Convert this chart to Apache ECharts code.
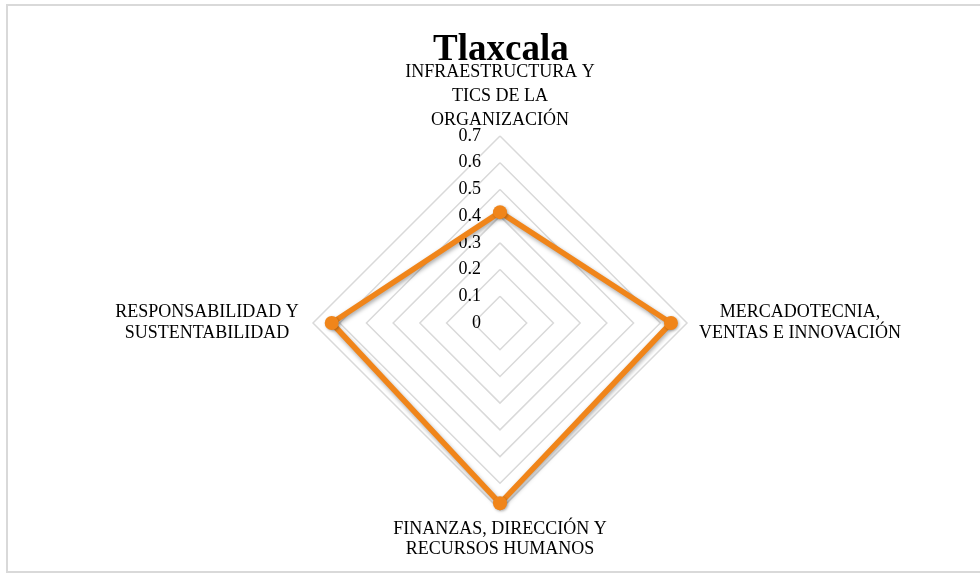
<!DOCTYPE html>
<html>
<head>
<meta charset="utf-8">
<script src="https://cdn.jsdelivr.net/npm/echarts@6/dist/echarts.min.js"></script>
<style>
  html, body { margin: 0; padding: 0; background: #fff; }
  #chart { width: 980px; height: 573px; }
</style>
</head>
<body>
<div id="chart"></div>
<script>
// indicators in ECharts order (top, left, bottom, right)
const indicatorNames = [
  'INFRAESTRUCTURA Y\nTICS DE LA\nORGANIZACIÓN',
  'RESPONSABILIDAD Y\nSUSTENTABILIDAD',
  'FINANZAS, DIRECCIÓN Y\nRECURSOS HUMANOS',
  'MERCADOTECNIA,\nVENTAS E INNOVACIÓN'
]
const nameKeys = ['t', 'l', 'b', 'r']
const tlaxcalaValues = [0.415, 0.63, 0.675, 0.64]
const tickLabels = ['0', '0.1', '0.2', '0.3', '0.4', '0.5', '0.6', '0.7']
const axisMax = 0.7

const font = '"Liberation Serif", "Times New Roman", serif'
const cx = 500
const cy = 323
const r = 187

function nameStyle(extra) {
  return Object.assign({ fontFamily: font, fontSize: 18, color: '#000', align: 'center' }, extra)
}

var myChart = echarts.init(document.getElementById('chart'))
myChart.setOption({
  animation: false,
  title: {
    text: 'Tlaxcala',
    left: 428,
    top: 27,
    textStyle: { fontFamily: font, fontSize: 37, fontWeight: 'bold', color: '#000' }
  },
  graphic: [
    {
      type: 'rect',
      shape: { x: 7, y: 5, width: 1000, height: 567 },
      style: { fill: 'none', stroke: '#d9d9d9', lineWidth: 2 },
      silent: true
    }
  ],
  // invisible grid used only for the 0..0.7 labels on the top spoke
  grid: { left: cx, top: cy - r, width: 1, height: r },
  xAxis: { type: 'value', show: false },
  yAxis: {
    type: 'value',
    min: 0,
    max: axisMax,
    interval: 0.1,
    axisLine: { show: false },
    axisTick: { show: false },
    splitLine: { show: false },
    axisLabel: {
      margin: 19,
      fontFamily: font,
      fontSize: 18,
      color: '#000',
      formatter: function (v) {
        return tickLabels[Math.round(v * 10)]
      }
    }
  },
  radar: {
    center: [cx, cy],
    radius: r,
    shape: 'polygon',
    splitNumber: 7,
    startAngle: 90,
    indicator: indicatorNames.map(function (n) {
      return { name: n, min: 0, max: axisMax }
    }),
    axisName: {
      color: '#000',
      fontFamily: font,
      fontSize: 18,
      formatter: function (name) {
        var key = nameKeys[indicatorNames.indexOf(name)]
        return name.split('\n').map(function (s, i) {
          var k = key === 'b' ? 'b' + (i + 1) : key
          return '{' + k + '|' + s + '}'
        }).join('\n')
      },
      rich: {
        t: nameStyle({ lineHeight: 24 }),
        b1: nameStyle({ lineHeight: 30 }),
        b2: nameStyle({ lineHeight: 10 }),
        l: nameStyle({ lineHeight: 21, width: 204 }),
        r: nameStyle({ lineHeight: 21, width: 218 })
      }
    },
    nameGap: 4,
    axisLine: { show: false },
    axisTick: { show: false },
    axisLabel: { show: false },
    splitArea: { show: false },
    splitLine: { lineStyle: { color: '#d9d9d9', width: 1.5 } }
  },
  series: [
    {
      type: 'radar',
      symbol: 'circle',
      symbolSize: 14,
      lineStyle: {
        color: '#F0851A',
        width: 5.5,
        shadowBlur: 4,
        shadowColor: 'rgba(0,0,0,0.35)',
        shadowOffsetX: 1,
        shadowOffsetY: 2
      },
      itemStyle: {
        color: '#F0851A',
        shadowBlur: 3,
        shadowColor: 'rgba(0,0,0,0.3)',
        shadowOffsetX: 1,
        shadowOffsetY: 1
      },
      data: [{ value: tlaxcalaValues, name: 'Tlaxcala' }]
    }
  ]
})
</script>
</body>
</html>
